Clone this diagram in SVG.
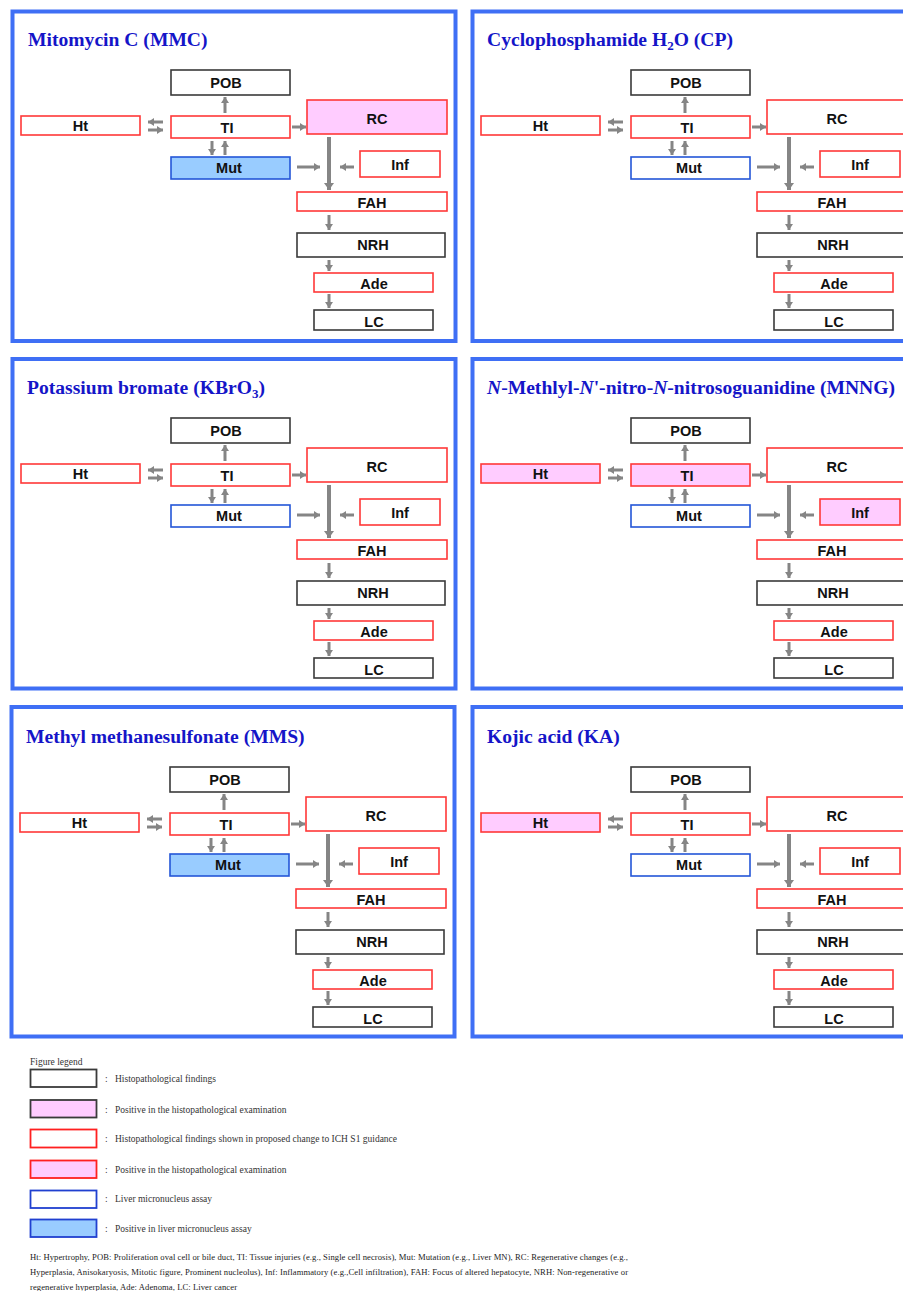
<svg xmlns="http://www.w3.org/2000/svg" width="903" height="1291" viewBox="0 0 903 1291">
<style>
.frame{fill:none;stroke:#3f6ff5;stroke-width:4}
.title{font-family:"Liberation Serif","Times New Roman",serif;font-weight:bold;font-size:19.6px;fill:#1515c8}
.nd{stroke-width:1.6;fill:#ffffff}
.k{stroke:#3a3a3a}
.r{stroke:#ff3838}
.b{stroke:#2456d8}
.pk{fill:#ffccff}
.lb{fill:#99ccff}
.lbl{font-family:"Liberation Sans",Arial,sans-serif;font-weight:bold;font-size:14.5px;fill:#111;text-anchor:middle}
.ar{stroke:#858585;stroke-width:3;fill:none;marker-end:url(#ah)}
.arb{stroke:#858585;stroke-width:4;fill:none;marker-end:url(#ahb)}
.lg{font-family:"Liberation Serif","Times New Roman",serif;font-size:9.5px;fill:#333}
.fn{font-family:"Liberation Serif","Times New Roman",serif;font-size:8.6px;fill:#222}
</style>
<defs>
<marker id="ah" markerUnits="userSpaceOnUse" markerWidth="6" markerHeight="8" viewBox="0 0 6 8" refX="6" refY="4" orient="auto"><path d="M0,0 L6,4 L0,8 z" fill="#858585"/></marker>
<marker id="ahb" markerUnits="userSpaceOnUse" markerWidth="7" markerHeight="10" viewBox="0 0 7 10" refX="7" refY="5" orient="auto"><path d="M0,0 L7,5 L0,10 z" fill="#858585"/></marker>
</defs>
<rect width="903" height="1291" fill="#ffffff"/>

<!-- panel frames -->
<rect class="frame" x="12.5" y="11.5" width="443" height="329.5"/>
<rect class="frame" x="472.5" y="11.5" width="450" height="329.5"/>
<rect class="frame" x="12.5" y="359" width="443" height="329.5"/>
<rect class="frame" x="472.5" y="359" width="450" height="329.5"/>
<rect class="frame" x="11.5" y="707" width="443" height="329.5"/>
<rect class="frame" x="472.5" y="707" width="450" height="329.5"/>

<!-- Panel 1 -->
<g id="panel-mmc">
<text class="title" x="28" y="46">Mitomycin C (MMC)</text>
<g id="mmc-pob"><rect class="nd k" x="171" y="70" width="119" height="25"/><text class="lbl" x="226" y="88">POB</text></g>
<g id="mmc-ht"><rect class="nd r" x="21" y="116" width="119" height="19"/><text class="lbl" x="80.5" y="131">Ht</text></g>
<g id="mmc-ti"><rect class="nd r" x="171" y="116" width="119" height="22"/><text class="lbl" x="227" y="132.5">TI</text></g>
<g id="mmc-rc"><rect class="nd r pk" x="307" y="100" width="140" height="34"/><text class="lbl" x="377" y="124">RC</text></g>
<g id="mmc-mut"><rect class="nd b lb" x="171" y="157" width="119" height="22"/><text class="lbl" x="229" y="172.5">Mut</text></g>
<g id="mmc-inf"><rect class="nd r" x="360" y="151" width="80" height="26"/><text class="lbl" x="400" y="170">Inf</text></g>
<g id="mmc-fah"><rect class="nd r" x="297" y="192" width="150" height="19"/><text class="lbl" x="372" y="207.5">FAH</text></g>
<g id="mmc-nrh"><rect class="nd k" x="297" y="233" width="148" height="24"/><text class="lbl" x="373" y="250">NRH</text></g>
<g id="mmc-ade"><rect class="nd r" x="314" y="273" width="119" height="19"/><text class="lbl" x="374" y="288.5">Ade</text></g>
<g id="mmc-lc"><rect class="nd k" x="314" y="310" width="119" height="20"/><text class="lbl" x="374" y="326.5">LC</text></g>
</g>

<!-- Panel 2 -->
<g id="panel-cp" transform="translate(460,0)">
<text class="title" x="27" y="46">Cyclophosphamide H<tspan font-size="13" dy="4">2</tspan><tspan dy="-4">O (CP)</tspan></text>
<g id="cp-pob"><rect class="nd k" x="171" y="70" width="119" height="25"/><text class="lbl" x="226" y="88">POB</text></g>
<g id="cp-ht"><rect class="nd r" x="21" y="116" width="119" height="19"/><text class="lbl" x="80.5" y="131">Ht</text></g>
<g id="cp-ti"><rect class="nd r" x="171" y="116" width="119" height="22"/><text class="lbl" x="227" y="132.5">TI</text></g>
<g id="cp-rc"><rect class="nd r" x="307" y="100" width="140" height="34"/><text class="lbl" x="377" y="124">RC</text></g>
<g id="cp-mut"><rect class="nd b" x="171" y="157" width="119" height="22"/><text class="lbl" x="229" y="172.5">Mut</text></g>
<g id="cp-inf"><rect class="nd r" x="360" y="151" width="80" height="26"/><text class="lbl" x="400" y="170">Inf</text></g>
<g id="cp-fah"><rect class="nd r" x="297" y="192" width="150" height="19"/><text class="lbl" x="372" y="207.5">FAH</text></g>
<g id="cp-nrh"><rect class="nd k" x="297" y="233" width="148" height="24"/><text class="lbl" x="373" y="250">NRH</text></g>
<g id="cp-ade"><rect class="nd r" x="314" y="273" width="119" height="19"/><text class="lbl" x="374" y="288.5">Ade</text></g>
<g id="cp-lc"><rect class="nd k" x="314" y="310" width="119" height="20"/><text class="lbl" x="374" y="326.5">LC</text></g>
</g>

<!-- Panel 3 -->
<g id="panel-kbro3" transform="translate(0,348)">
<text class="title" x="27" y="46">Potassium bromate (KBrO<tspan font-size="13" dy="4">3</tspan><tspan dy="-4">)</tspan></text>
<g id="kbro3-pob"><rect class="nd k" x="171" y="70" width="119" height="25"/><text class="lbl" x="226" y="88">POB</text></g>
<g id="kbro3-ht"><rect class="nd r" x="21" y="116" width="119" height="19"/><text class="lbl" x="80.5" y="131">Ht</text></g>
<g id="kbro3-ti"><rect class="nd r" x="171" y="116" width="119" height="22"/><text class="lbl" x="227" y="132.5">TI</text></g>
<g id="kbro3-rc"><rect class="nd r" x="307" y="100" width="140" height="34"/><text class="lbl" x="377" y="124">RC</text></g>
<g id="kbro3-mut"><rect class="nd b" x="171" y="157" width="119" height="22"/><text class="lbl" x="229" y="172.5">Mut</text></g>
<g id="kbro3-inf"><rect class="nd r" x="360" y="151" width="80" height="26"/><text class="lbl" x="400" y="170">Inf</text></g>
<g id="kbro3-fah"><rect class="nd r" x="297" y="192" width="150" height="19"/><text class="lbl" x="372" y="207.5">FAH</text></g>
<g id="kbro3-nrh"><rect class="nd k" x="297" y="233" width="148" height="24"/><text class="lbl" x="373" y="250">NRH</text></g>
<g id="kbro3-ade"><rect class="nd r" x="314" y="273" width="119" height="19"/><text class="lbl" x="374" y="288.5">Ade</text></g>
<g id="kbro3-lc"><rect class="nd k" x="314" y="310" width="119" height="20"/><text class="lbl" x="374" y="326.5">LC</text></g>
</g>

<!-- Panel 4 -->
<g id="panel-mnng" transform="translate(460,348)">
<text class="title" x="27" y="46"><tspan font-style="italic">N</tspan>-Methlyl-<tspan font-style="italic">N</tspan>'-nitro-<tspan font-style="italic">N</tspan>-nitrosoguanidine (MNNG)</text>
<g id="mnng-pob"><rect class="nd k" x="171" y="70" width="119" height="25"/><text class="lbl" x="226" y="88">POB</text></g>
<g id="mnng-ht"><rect class="nd r pk" x="21" y="116" width="119" height="19"/><text class="lbl" x="80.5" y="131">Ht</text></g>
<g id="mnng-ti"><rect class="nd r pk" x="171" y="116" width="119" height="22"/><text class="lbl" x="227" y="132.5">TI</text></g>
<g id="mnng-rc"><rect class="nd r" x="307" y="100" width="140" height="34"/><text class="lbl" x="377" y="124">RC</text></g>
<g id="mnng-mut"><rect class="nd b" x="171" y="157" width="119" height="22"/><text class="lbl" x="229" y="172.5">Mut</text></g>
<g id="mnng-inf"><rect class="nd r pk" x="360" y="151" width="80" height="26"/><text class="lbl" x="400" y="170">Inf</text></g>
<g id="mnng-fah"><rect class="nd r" x="297" y="192" width="150" height="19"/><text class="lbl" x="372" y="207.5">FAH</text></g>
<g id="mnng-nrh"><rect class="nd k" x="297" y="233" width="148" height="24"/><text class="lbl" x="373" y="250">NRH</text></g>
<g id="mnng-ade"><rect class="nd r" x="314" y="273" width="119" height="19"/><text class="lbl" x="374" y="288.5">Ade</text></g>
<g id="mnng-lc"><rect class="nd k" x="314" y="310" width="119" height="20"/><text class="lbl" x="374" y="326.5">LC</text></g>
</g>

<!-- Panel 5 -->
<g id="panel-mms" transform="translate(-1,697)">
<text class="title" x="27" y="46">Methyl methanesulfonate (MMS)</text>
<g id="mms-pob"><rect class="nd k" x="171" y="70" width="119" height="25"/><text class="lbl" x="226" y="88">POB</text></g>
<g id="mms-ht"><rect class="nd r" x="21" y="116" width="119" height="19"/><text class="lbl" x="80.5" y="131">Ht</text></g>
<g id="mms-ti"><rect class="nd r" x="171" y="116" width="119" height="22"/><text class="lbl" x="227" y="132.5">TI</text></g>
<g id="mms-rc"><rect class="nd r" x="307" y="100" width="140" height="34"/><text class="lbl" x="377" y="124">RC</text></g>
<g id="mms-mut"><rect class="nd b lb" x="171" y="157" width="119" height="22"/><text class="lbl" x="229" y="172.5">Mut</text></g>
<g id="mms-inf"><rect class="nd r" x="360" y="151" width="80" height="26"/><text class="lbl" x="400" y="170">Inf</text></g>
<g id="mms-fah"><rect class="nd r" x="297" y="192" width="150" height="19"/><text class="lbl" x="372" y="207.5">FAH</text></g>
<g id="mms-nrh"><rect class="nd k" x="297" y="233" width="148" height="24"/><text class="lbl" x="373" y="250">NRH</text></g>
<g id="mms-ade"><rect class="nd r" x="314" y="273" width="119" height="19"/><text class="lbl" x="374" y="288.5">Ade</text></g>
<g id="mms-lc"><rect class="nd k" x="314" y="310" width="119" height="20"/><text class="lbl" x="374" y="326.5">LC</text></g>
</g>

<!-- Panel 6 -->
<g id="panel-ka" transform="translate(460,697)">
<text class="title" x="27" y="46">Kojic acid (KA)</text>
<g id="ka-pob"><rect class="nd k" x="171" y="70" width="119" height="25"/><text class="lbl" x="226" y="88">POB</text></g>
<g id="ka-ht"><rect class="nd r pk" x="21" y="116" width="119" height="19"/><text class="lbl" x="80.5" y="131">Ht</text></g>
<g id="ka-ti"><rect class="nd r" x="171" y="116" width="119" height="22"/><text class="lbl" x="227" y="132.5">TI</text></g>
<g id="ka-rc"><rect class="nd r" x="307" y="100" width="140" height="34"/><text class="lbl" x="377" y="124">RC</text></g>
<g id="ka-mut"><rect class="nd b" x="171" y="157" width="119" height="22"/><text class="lbl" x="229" y="172.5">Mut</text></g>
<g id="ka-inf"><rect class="nd r" x="360" y="151" width="80" height="26"/><text class="lbl" x="400" y="170">Inf</text></g>
<g id="ka-fah"><rect class="nd r" x="297" y="192" width="150" height="19"/><text class="lbl" x="372" y="207.5">FAH</text></g>
<g id="ka-nrh"><rect class="nd k" x="297" y="233" width="148" height="24"/><text class="lbl" x="373" y="250">NRH</text></g>
<g id="ka-ade"><rect class="nd r" x="314" y="273" width="119" height="19"/><text class="lbl" x="374" y="288.5">Ade</text></g>
<g id="ka-lc"><rect class="nd k" x="314" y="310" width="119" height="20"/><text class="lbl" x="374" y="326.5">LC</text></g>
</g>

<!-- connectors -->
<g id="connectors">
<g id="conn-mmc">
<line class="ar" x1="225" y1="113" x2="225" y2="97"/>
<line class="ar" x1="163" y1="122" x2="148" y2="122"/>
<line class="ar" x1="148" y1="130" x2="163" y2="130"/>
<line class="ar" x1="212" y1="141" x2="212" y2="155"/>
<line class="ar" x1="225" y1="155" x2="225" y2="141"/>
<line class="ar" x1="292" y1="127" x2="306" y2="127"/>
<line class="ar" x1="297" y1="167" x2="320" y2="167"/>
<line class="ar" x1="354" y1="167" x2="340" y2="167"/>
<line class="arb" x1="329" y1="137" x2="329" y2="190"/>
<line class="ar" x1="329" y1="215" x2="329" y2="230"/>
<line class="ar" x1="329" y1="260" x2="329" y2="271"/>
<line class="ar" x1="329" y1="294" x2="329" y2="308"/>
</g>
<g id="conn-cp" transform="translate(460,0)">
<line class="ar" x1="225" y1="113" x2="225" y2="97"/>
<line class="ar" x1="163" y1="122" x2="148" y2="122"/>
<line class="ar" x1="148" y1="130" x2="163" y2="130"/>
<line class="ar" x1="212" y1="141" x2="212" y2="155"/>
<line class="ar" x1="225" y1="155" x2="225" y2="141"/>
<line class="ar" x1="292" y1="127" x2="306" y2="127"/>
<line class="ar" x1="297" y1="167" x2="320" y2="167"/>
<line class="ar" x1="354" y1="167" x2="340" y2="167"/>
<line class="arb" x1="329" y1="137" x2="329" y2="190"/>
<line class="ar" x1="329" y1="215" x2="329" y2="230"/>
<line class="ar" x1="329" y1="260" x2="329" y2="271"/>
<line class="ar" x1="329" y1="294" x2="329" y2="308"/>
</g>
<g id="conn-kbro3" transform="translate(0,348)">
<line class="ar" x1="225" y1="113" x2="225" y2="97"/>
<line class="ar" x1="163" y1="122" x2="148" y2="122"/>
<line class="ar" x1="148" y1="130" x2="163" y2="130"/>
<line class="ar" x1="212" y1="141" x2="212" y2="155"/>
<line class="ar" x1="225" y1="155" x2="225" y2="141"/>
<line class="ar" x1="292" y1="127" x2="306" y2="127"/>
<line class="ar" x1="297" y1="167" x2="320" y2="167"/>
<line class="ar" x1="354" y1="167" x2="340" y2="167"/>
<line class="arb" x1="329" y1="137" x2="329" y2="190"/>
<line class="ar" x1="329" y1="215" x2="329" y2="230"/>
<line class="ar" x1="329" y1="260" x2="329" y2="271"/>
<line class="ar" x1="329" y1="294" x2="329" y2="308"/>
</g>
<g id="conn-mnng" transform="translate(460,348)">
<line class="ar" x1="225" y1="113" x2="225" y2="97"/>
<line class="ar" x1="163" y1="122" x2="148" y2="122"/>
<line class="ar" x1="148" y1="130" x2="163" y2="130"/>
<line class="ar" x1="212" y1="141" x2="212" y2="155"/>
<line class="ar" x1="225" y1="155" x2="225" y2="141"/>
<line class="ar" x1="292" y1="127" x2="306" y2="127"/>
<line class="ar" x1="297" y1="167" x2="320" y2="167"/>
<line class="ar" x1="354" y1="167" x2="340" y2="167"/>
<line class="arb" x1="329" y1="137" x2="329" y2="190"/>
<line class="ar" x1="329" y1="215" x2="329" y2="230"/>
<line class="ar" x1="329" y1="260" x2="329" y2="271"/>
<line class="ar" x1="329" y1="294" x2="329" y2="308"/>
</g>
<g id="conn-mms" transform="translate(-1,697)">
<line class="ar" x1="225" y1="113" x2="225" y2="97"/>
<line class="ar" x1="163" y1="122" x2="148" y2="122"/>
<line class="ar" x1="148" y1="130" x2="163" y2="130"/>
<line class="ar" x1="212" y1="141" x2="212" y2="155"/>
<line class="ar" x1="225" y1="155" x2="225" y2="141"/>
<line class="ar" x1="292" y1="127" x2="306" y2="127"/>
<line class="ar" x1="297" y1="167" x2="320" y2="167"/>
<line class="ar" x1="354" y1="167" x2="340" y2="167"/>
<line class="arb" x1="329" y1="137" x2="329" y2="190"/>
<line class="ar" x1="329" y1="215" x2="329" y2="230"/>
<line class="ar" x1="329" y1="260" x2="329" y2="271"/>
<line class="ar" x1="329" y1="294" x2="329" y2="308"/>
</g>
<g id="conn-ka" transform="translate(460,697)">
<line class="ar" x1="225" y1="113" x2="225" y2="97"/>
<line class="ar" x1="163" y1="122" x2="148" y2="122"/>
<line class="ar" x1="148" y1="130" x2="163" y2="130"/>
<line class="ar" x1="212" y1="141" x2="212" y2="155"/>
<line class="ar" x1="225" y1="155" x2="225" y2="141"/>
<line class="ar" x1="292" y1="127" x2="306" y2="127"/>
<line class="ar" x1="297" y1="167" x2="320" y2="167"/>
<line class="ar" x1="354" y1="167" x2="340" y2="167"/>
<line class="arb" x1="329" y1="137" x2="329" y2="190"/>
<line class="ar" x1="329" y1="215" x2="329" y2="230"/>
<line class="ar" x1="329" y1="260" x2="329" y2="271"/>
<line class="ar" x1="329" y1="294" x2="329" y2="308"/>
</g>
</g>

<!-- legend -->
<g id="legend">
<text class="lg" x="30" y="1065" font-size="8.6">Figure legend</text>
<g id="lg1"><rect x="30.5" y="1069.5" width="66" height="17.5" fill="#fff" stroke="#3a3a3a" stroke-width="1.8"/><text class="lg" x="105" y="1082">:</text><text class="lg" x="115" y="1082">Histopathological findings</text></g>
<g id="lg2"><rect x="30.5" y="1100" width="66" height="17.5" fill="#ffccff" stroke="#3a3a3a" stroke-width="1.8"/><text class="lg" x="105" y="1113">:</text><text class="lg" x="115" y="1113">Positive in the histopathological examination</text></g>
<g id="lg3"><rect x="30.5" y="1129.5" width="66" height="18" fill="#fff" stroke="#ff2020" stroke-width="1.8"/><text class="lg" x="105" y="1142">:</text><text class="lg" x="115" y="1142">Histopathological findings shown in proposed change to ICH S1 guidance</text></g>
<g id="lg4"><rect x="30.5" y="1160.5" width="66" height="17.5" fill="#ffccff" stroke="#ff2020" stroke-width="1.8"/><text class="lg" x="105" y="1173">:</text><text class="lg" x="115" y="1173">Positive in the histopathological examination</text></g>
<g id="lg5"><rect x="30.5" y="1190.5" width="66" height="17.5" fill="#fff" stroke="#2040d0" stroke-width="1.8"/><text class="lg" x="105" y="1202">:</text><text class="lg" x="115" y="1202">Liver micronucleus assay</text></g>
<g id="lg6"><rect x="30.5" y="1219.5" width="66" height="17.5" fill="#99ccff" stroke="#2040d0" stroke-width="1.8"/><text class="lg" x="105" y="1232">:</text><text class="lg" x="115" y="1232">Positive in liver micronucleus assay</text></g>
</g>

<g id="footnote">
<text class="fn" x="30" y="1260" textLength="598">Ht: Hypertrophy, POB: Proliferation oval cell or bile duct, TI: Tissue injuries (e.g., Single cell necrosis), Mut: Mutation (e.g., Liver MN), RC: Regenerative changes (e.g.,</text>
<text class="fn" x="30" y="1275" textLength="598">Hyperplasia, Anisokaryosis, Mitotic figure, Prominent nucleolus), Inf: Inflammatory (e.g.,Cell infiltration), FAH: Focus of altered hepatocyte, NRH: Non-regenerative or</text>
<text class="fn" x="30" y="1290" textLength="207">regenerative hyperplasia, Ade: Adenoma, LC: Liver cancer</text>
</g>
</svg>
